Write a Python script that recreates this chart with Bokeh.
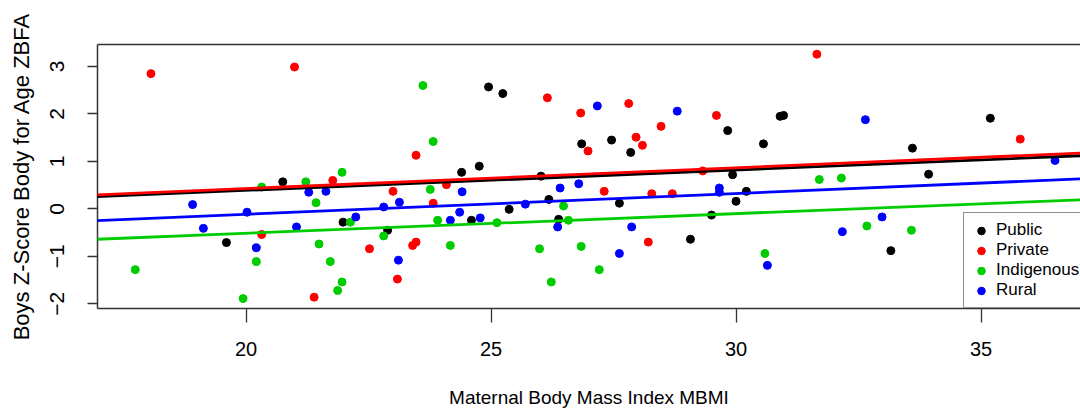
from bokeh.plotting import figure
from bokeh.models import Range1d, LinearAxis, FixedTicker, Slope, Legend, LegendItem
from bokeh.embed import file_html
from bokeh.resources import INLINE

# ---------------- data ----------------
x_ticks = [20, 25, 30, 35]
y_ticks = [-2, -1, 0, 1, 2, 3]
groups = ["Public", "Private", "Indigenous", "Rural"]
colors = ["#000000", "#FF0000", "#00CD00", "#0000FF"]

public_x = [19.60, 20.75, 21.98, 22.89, 24.40, 24.76, 24.60, 24.95, 25.24, 25.37,
            26.02, 26.18, 26.38, 26.85, 27.46, 27.62, 27.85, 29.07, 29.50, 29.83,
            29.93, 30.00, 30.21, 30.56, 30.90, 30.97, 33.16, 33.60, 33.93, 35.19]
public_y = [-0.71, 0.57, -0.28, -0.45, 0.77, 0.90, -0.24, 2.57, 2.43, -0.01,
            0.69, 0.20, -0.22, 1.37, 1.45, 0.12, 1.19, -0.64, -0.13, 1.65,
            0.72, 0.16, 0.37, 1.37, 1.95, 1.97, -0.88, 1.28, 0.73, 1.91]

private_x = [18.06, 20.32, 20.99, 21.39, 21.77, 22.52, 23.00, 23.09, 23.40, 23.47,
             23.47, 23.82, 24.09, 26.15, 26.83, 26.98, 27.31, 27.81, 27.96, 28.09,
             28.21, 28.28, 28.47, 28.70, 29.32, 29.60, 31.65, 35.80]
private_y = [2.85, -0.54, 2.99, -1.86, 0.60, -0.84, 0.37, -1.48, -0.77, -0.70,
             1.13, 0.12, 0.51, 2.34, 2.02, 1.22, 0.37, 2.22, 1.51, 1.34,
             -0.70, 0.32, 1.74, 0.32, 0.80, 1.97, 3.26, 1.47]

indigenous_x = [17.74, 19.94, 20.21, 20.32, 21.22, 21.43, 21.49, 21.72, 21.87, 21.96,
                21.96, 22.13, 22.81, 23.61, 23.76, 23.82, 23.91, 24.17, 25.12, 25.99,
                26.23, 26.48, 26.58, 26.84, 27.21, 30.59, 31.70, 32.15, 32.67, 33.58]
indigenous_y = [-1.28, -1.89, -1.11, 0.46, 0.57, 0.13, -0.74, -1.11, -1.72, -1.54,
                0.77, -0.28, -0.57, 2.60, 0.41, 1.42, -0.24, -0.77, -0.29, -0.84,
                -1.54, 0.06, -0.24, -0.79, -1.28, -0.94, 0.62, 0.65, -0.36, -0.45]

rural_x = [18.91, 19.13, 20.02, 20.21, 21.03, 21.28, 21.63, 22.24, 22.81, 23.11,
           23.13, 24.17, 24.36, 24.41, 24.78, 25.70, 26.36, 26.41, 26.79, 27.17,
           27.62, 27.87, 28.80, 29.66, 29.66, 30.64, 32.17, 32.64, 32.98, 36.51]
rural_y = [0.09, -0.41, -0.07, -0.82, -0.38, 0.35, 0.37, -0.17, 0.04, -1.08,
           0.14, -0.24, -0.07, 0.36, -0.19, 0.10, -0.38, 0.44, 0.53, 2.17,
           -0.94, -0.38, 2.06, 0.44, 0.35, -1.19, -0.48, 1.88, -0.17, 1.02]

# fitted regression lines (intercept, slope) per group
fit_intercept = [-0.468, -0.450, -1.342, -0.992]
fit_slope = [0.0429, 0.0439, 0.0414, 0.0439]

xs = [public_x, private_x, indigenous_x, rural_x]
ys = [public_y, private_y, indigenous_y, rural_y]

FONT = "Liberation Sans, Arial"
FRAME = "#333333"

p = figure(width=1080, height=414,
           x_range=Range1d(16.969, 37.03), y_range=Range1d(-2.099, 3.464),
           output_backend="svg", toolbar_location=None,
           min_border_left=97, min_border_right=0, min_border_top=44, min_border_bottom=106,
           x_axis_label="Maternal Body Mass Index MBMI",
           y_axis_label="Boys Z-Score Body for Age ZBFA",
           background_fill_color="white", border_fill_color="white")
p.outline_line_color = None
p.grid.visible = False

xa = p.xaxis[0]
xa.ticker = FixedTicker(ticks=x_ticks)
xa.minor_tick_line_color = None
xa.major_tick_in = 0
xa.major_tick_out = 14
xa.major_tick_line_color = FRAME
xa.major_tick_line_width = 1.3
xa.axis_line_color = FRAME
xa.axis_line_width = 1.5
xa.major_label_text_font = FONT
xa.major_label_text_font_size = "20px"
xa.major_label_text_color = "black"
xa.major_label_standoff = 19
xa.axis_label_text_font = FONT
xa.axis_label_text_font_size = "19px"
xa.axis_label_text_font_style = "normal"
xa.axis_label_text_color = "black"
xa.axis_label_standoff = 28

ya = p.yaxis[0]
ya.ticker = FixedTicker(ticks=y_ticks)
ya.minor_tick_line_color = None
ya.major_tick_in = 0
ya.major_tick_out = 10
ya.major_tick_line_color = FRAME
ya.major_tick_line_width = 1.3
ya.axis_line_color = FRAME
ya.axis_line_width = 1.5
ya.major_label_orientation = "vertical"
ya.major_label_text_font = FONT
ya.major_label_text_font_size = "21px"
ya.major_label_text_color = "black"
ya.major_label_standoff = 23
ya.axis_label_text_font = FONT
ya.axis_label_text_font_size = "22px"
ya.axis_label_text_font_style = "normal"
ya.axis_label_text_color = "black"
ya.axis_label_standoff = 14

top = LinearAxis(ticker=FixedTicker(ticks=[]), major_tick_line_color=None,
                 minor_tick_line_color=None, major_label_text_color=None,
                 axis_line_color=FRAME, axis_line_width=1.5)
p.add_layout(top, "above")

renderers = []
for gx, gy, c in zip(xs, ys, colors):
    r = p.scatter(gx, gy, size=8, fill_color=c, line_color=c, line_width=1)
    renderers.append(r)

for b, s, c in zip(fit_intercept, fit_slope, colors):
    p.add_layout(Slope(gradient=s, y_intercept=b, line_color=c, line_width=2.8))

legend = Legend(items=[LegendItem(label=g, renderers=[r]) for g, r in zip(groups, renderers)],
                location=(866, 0), orientation="vertical",
                border_line_color="#222222", border_line_width=1.3,
                background_fill_color="white", background_fill_alpha=1.0,
                label_text_font=FONT, label_text_font_size="17px", label_text_color="black",
                glyph_width=20, glyph_height=19, label_height=19, spacing=-2,
                padding=7, label_standoff=5, margin=0)
p.add_layout(legend)

open("out.html", "w").write(file_html(p, INLINE))
